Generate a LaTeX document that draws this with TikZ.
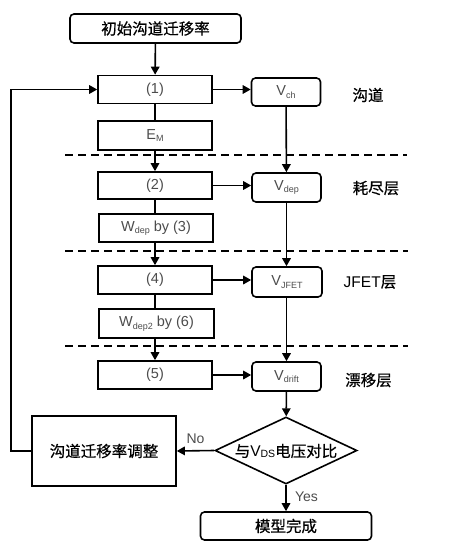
\documentclass[tikz,border=0pt]{standalone}
\usepackage{fontspec}
\setmainfont{Liberation Sans}
\newfontfamily\cjk[FakeBold=0.6]{Noto Sans CJK SC}
\usetikzlibrary{arrows.meta,shapes.geometric}
\definecolor{labgray}{gray}{0.3}
\newcommand{\mysub}[1]{\raisebox{-2.5pt}{\fontsize{9}{10}\selectfont #1}}
\begin{document}
\begin{tikzpicture}[x=1pt,y=-1pt,
  line width=1.6pt,
  arr/.style={-{Triangle[length=8pt,width=8.5pt]}},
  box/.style={draw,rectangle,inner sep=0pt,minimum width=114pt,minimum height=28pt,
    font=\fontsize{14.5}{16}\selectfont,text=labgray},
  rbox/.style={box,rounded corners=4pt,minimum width=69pt,minimum height=28pt},
  cbox/.style={draw,rectangle,rounded corners=4pt,inner sep=0pt,minimum width=171pt,minimum height=29pt,
    font=\cjk\fontsize{15.5}{18}\selectfont},
  lay/.style={font=\fontsize{15.5}{18}\selectfont,inner sep=0pt},
  sep/.style={dashed,dash pattern=on 8pt off 5pt,line width=1.5pt}
]
\useasboundingbox (0,0) rectangle (451,548);
% nodes
\node[cbox] (init) at (155.5,28.5) {初始沟道迁移率};
\node[box] (b1) at (155,89.5) {(1)};
\node[rbox] (vch) at (286,92) {V\mysub{ch}};
\node[box,minimum height=29pt] (em) at (155,135.5) {E\mysub{M}};
\node[box,minimum height=27pt] (b2) at (155,185.5) {(2)};
\node[rbox,minimum height=29pt] (vdep) at (286.5,187.5) {V\mysub{dep}};
\node[box] (wdep) at (156,228) {W\mysub{dep} by (3)};
\node[box] (b4) at (155,280) {(4)};
\node[rbox,minimum width=70pt,minimum height=30pt] (vjfet) at (287,282) {V\mysub{JFET}};
\node[box,minimum width=115pt,minimum height=29pt] (wdep2) at (156.5,323.5) {W\mysub{dep2} by (6)};
\node[box] (b5) at (155,375) {(5)};
\node[rbox,minimum height=29pt] (vdrift) at (286.5,376.5) {V\mysub{drift}};
\node[draw,diamond,minimum width=142pt,minimum height=67pt,inner sep=0pt] (dia) at (286,450.5) {};
\node[lay] (diat) at (286,451) {{\cjk 与}V{\fontsize{10.5}{12}\selectfont\raisebox{-1pt}{DS}}{\cjk 电压对比}};
\node[draw,rectangle,inner sep=0pt,minimum width=144pt,minimum height=70pt,font=\cjk\fontsize{15.5}{18}\selectfont] (adj) at (104,451) {沟道迁移率调整};
\node[cbox,minimum height=28pt] (done) at (286,526) {模型完成};
% layer labels
\node[lay] (l1) at (368,95) {\cjk 沟道};
\node[lay] (l2) at (376,188) {\cjk 耗尽层};
\node[lay] (l3) at (370,282) {JFET{\cjk 层}};
\node[lay] (l4) at (368.5,380) {\cjk 漂移层};
% separators
\draw[sep] (65,155) -- (407,155);
\draw[sep] (65,251) -- (408,251);
\draw[sep] (65,346) -- (408,346);
% connectors
\draw[arr] (init) -- (b1);
\draw[arr] (b1.east) -- (b1.east -| vch.west);
\draw (b1) -- (em);
\draw[arr] (em) -- (b2);
\draw[arr] (vch) -- (vdep);
\draw[arr] (b2.east) -- (b2.east -| vdep.west);
\draw (b2) -- (wdep.north -| b2.south);
\draw[arr] (wdep.south -| b4.north) -- (b4);
\draw[arr] (vdep) -- (vjfet.north -| vdep.south);
\draw[arr] (b4.east) -- (b4.east -| vjfet.west);
\draw (b4) -- (wdep2.north -| b4.south);
\draw[arr] (wdep2.south -| b5.north) -- (b5);
\draw[arr] (vjfet.south -| vdrift.north) -- (vdrift);
\draw[arr] (b5.east) -- (b5.east -| vdrift.west);
\draw[arr] (vdrift) -- (dia);
\draw[arr] (dia.west) -- node[above=3pt,text=labgray,font=\fontsize{14}{15}\selectfont] (no) {No} (adj.east);
\draw[arr] (dia.south) -- node[right=5pt,text=labgray,font=\fontsize{14}{15}\selectfont,pos=0.45] (yes) {Yes} (done.north);
\draw[arr] (adj.west) -- ++(-20,0) |- (b1.west);
\end{tikzpicture}
\end{document}
